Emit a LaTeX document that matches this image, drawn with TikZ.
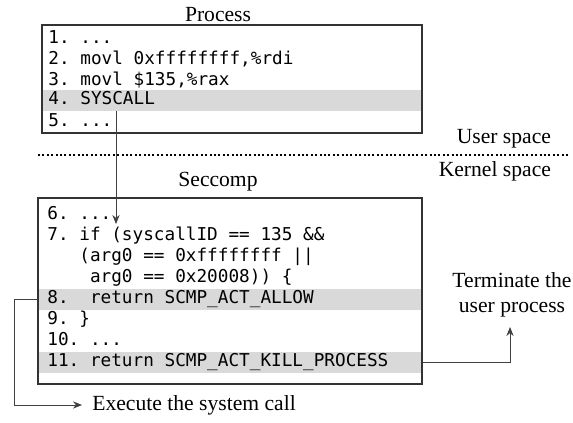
\documentclass[tikz,border=0pt]{standalone}
\usepackage{fontspec}
\setmainfont{Liberation Serif}
\setmonofont{DejaVu Sans Mono}
\usetikzlibrary{arrows.meta}

\begin{document}
\begin{tikzpicture}[x=0.5pt,y=-0.5pt,
  label/.style={font=\fontsize{10.8}{12.5}\selectfont},
  code/.style={anchor=west,inner sep=0pt,text height=6.5pt,text depth=1.9pt,
    font=\ttfamily\fontsize{8.85}{10}\selectfont},
  band/.style={fill=gray!30,anchor=west,inner sep=0pt,minimum height=10.5pt},
  pband/.style={band,minimum width=190pt},
  sband/.style={band,minimum width=192pt},
  box/.style={draw=black!80,line width=0.6pt},
  link/.style={draw=black!75,line width=0.45pt,-{Stealth[length=4.5pt,width=3.6pt]}}]
\useasboundingbox (0,0) rectangle (573,423);

% process
\node[label] (proctitle) at (218,15) {Process};
\node[pband] (l4) at (42,100) {};
\node[code] (l1) at (48,39) {1. ...};
\node[code] (l2) at (48,60) {2. movl 0xffffffff,\%rdi};
\node[code] (l3) at (48,80.5) {3. movl \$135,\%rax};
\node[code] (l4t) at (48,100) {4. SYSCALL};
\node[code] (l5) at (48,122) {5. ...};
\draw[box] (42,25) rectangle (422,133);

% user / kernel border
\draw[line width=1pt,dash pattern=on 1pt off 1.2pt] (38,155) -- (568,155);
\node[label,anchor=east] (user) at (558,139) {User space};
\node[label,anchor=east] (kernel) at (558,171) {Kernel space};

% seccomp
\node[label] (sectitle) at (218,182) {Seccomp};
\node[sband] (l8) at (38,299) {};
\node[sband] (l11) at (38,362) {};
\node[code] (l6) at (47,215) {6. ...};
\node[code] (l7) at (47,236) {7. if (syscallID == 135 \&\&};
\node[code] (l7a) at (47,257) {~~~(arg0 == 0xffffffff ||};
\node[code] (l7b) at (47,278) {~~~~arg0 == 0x20008)) \{};
\node[code] (l8t) at (47,299) {8.~~return SCMP\_ACT\_ALLOW};
\node[code] (l9) at (47,320) {9. \}};
\node[code] (l10) at (47,341) {10. ...};
\node[code] (l11t) at (47,362) {11. return SCMP\_ACT\_KILL\_PROCESS};
\draw[box] (38,198) rectangle (422,384);

% outcomes
\node[label,anchor=west,inner sep=0pt] (exec) at (92,405) {Execute the system call};
\node[label,align=center] (term) at (512,295) {Terminate the\\user process};

\coordinate (in6) at (116,224);
\coordinate (lturn) at (14,405);
\coordinate (up) at (510,327);

\draw[link] (l4.south -| in6) -- (in6);
\draw[link,shorten >=5pt] (l8.west) -| (lturn) -- (exec.west);
\draw[link] (l11.east) -| (up);
\end{tikzpicture}
\end{document}
